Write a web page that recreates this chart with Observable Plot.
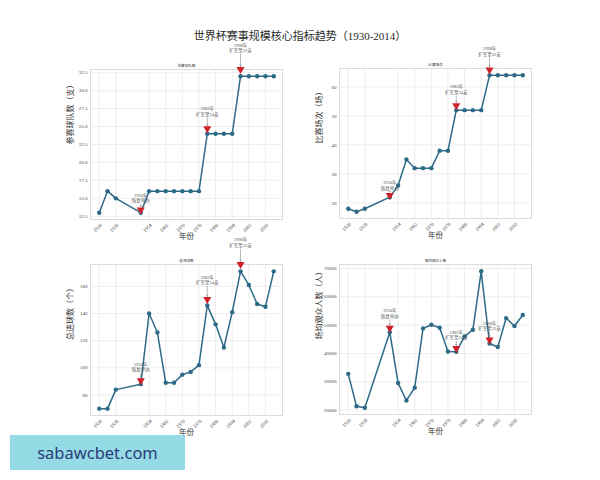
<!DOCTYPE html>
<html>
<head>
<meta charset="utf-8">
<script src="https://cdn.jsdelivr.net/npm/d3@7"></script>
<script src="https://cdn.jsdelivr.net/npm/@observablehq/plot@0.6"></script>
<style>
  html, body { margin: 0; padding: 0; background: #fff; }
  #wrap { position: relative; width: 600px; height: 480px; overflow: hidden; background: #fff;
          font-family: "Liberation Serif", "Noto Sans CJK SC", serif; }
  #wrap svg { position: absolute; }
  #title { position: absolute; left: 0; top: 29px; width: 600px; text-align: center;
           font-size: 11px; line-height: 14px; color: #2a2a2a; z-index: 5; }
  #mark { position: absolute; left: 10px; top: 435px; width: 175px; height: 35px; background: #95dbe6;
          color: #2b3b78; font-family: "Noto Sans", Roboto, sans-serif; font-size: 16.5px;
          line-height: 35px; text-align: center; z-index: 6; }
</style>
</head>
<body>
<div id="wrap">
  <div id="title">世界杯赛事规模核心指标趋势（1930-2014）</div>
  <div id="mark">sabawcbet.com</div>
</div>
<script>
// ---- data ----
const years = [1930,1934,1938,1950,1954,1958,1962,1966,1970,1974,1978,1982,1986,1990,1994,1998,2002,2006,2010,2014];
const teams = [13,16,15,13,16,16,16,16,16,16,16,24,24,24,24,32,32,32,32,32];
const matches = [18,17,18,22,26,35,32,32,32,38,38,52,52,52,52,64,64,64,64,64];
const goals = [70,70,84,88,140,126,89,89,95,97,102,146,132,115,141,171,161,147,145,171];
const attendance = [32808,21353,20872,47511,29562,23423,27912,48848,50124,49099,40679,40572,46039,48389,68991,43517,42269,52491,49669,53592];

const panelTitles = ["参赛球队数", "比赛场次", "总进球数", "场均观众人数"];
const yLabels = ["参赛球队数（支）", "比赛场次（场）", "总进球数（个）", "场均观众人数（人）"];
const xLabel = "年份";
const xTicks = [1930,1938,1954,1962,1970,1978,1986,1994,2002,2010];
const yTicks1 = [12.5,15.0,17.5,20.0,22.5,25.0,27.5,30.0,32.5];
const yTicks2 = [20,30,40,50,60];
const yTicks3 = [80,100,120,140,160];
const yTicks4 = [20000,30000,40000,50000,60000,70000];

const annoYears = [1950, 1982, 1998];
const annoTexts = ["1950年\n恢复举办", "1982年\n扩军至24支", "1998年\n扩军至32支"];

// ---- drawing ----
const LINE = "#2d6a87";
const RED = "#d0202a";
const FONT = "'Liberation Serif', 'Noto Sans CJK SC', serif";
const wrap = document.getElementById("wrap");

const panels = [
  {values: teams, ticks: yTicks1, fmt: d => d.toFixed(1), left: 40, top: 40, m: [29, 8, 31, 50]},
  {values: matches, ticks: yTicks2, fmt: d => String(d), left: 290, top: 40, m: [28, 9, 32, 49]},
  {values: goals, ticks: yTicks3, fmt: d => String(d), left: 40, top: 235, m: [29, 8, 30, 50]},
  {values: attendance, ticks: yTicks4, fmt: d => String(d), left: 290, top: 235, m: [29, 9, 31, 49]}
];

const xMin = d3.min(years), xMax = d3.max(years), xPad = (xMax - xMin) * 0.05;

panels.forEach((p, i) => {
  const data = years.map((y, k) => ({year: y, value: p.values[k]}));
  const ann = annoYears.map((y, k) => ({year: y, value: p.values[years.indexOf(y)], text: annoTexts[k]}));
  const vMin = d3.min(p.values), vMax = d3.max(p.values), vPad = (vMax - vMin) * 0.05;
  const chart = Plot.plot({
    width: 250, height: 210,
    marginTop: p.m[0], marginRight: p.m[1], marginBottom: p.m[2], marginLeft: p.m[3],
    style: {fontFamily: FONT, background: "transparent", overflow: "visible"},
    x: {domain: [xMin - xPad, xMax + xPad], axis: null},
    y: {domain: [vMin - vPad, vMax + vPad], axis: null},
    marks: [
      Plot.gridX(xTicks, {stroke: "#e3e3e3", strokeOpacity: 1, strokeWidth: 0.6}),
      Plot.gridY(p.ticks, {stroke: "#e3e3e3", strokeOpacity: 1, strokeWidth: 0.6}),
      Plot.frame({stroke: "#d4d4d4", strokeWidth: 0.8}),
      Plot.text(p.ticks, {y: d => d, frameAnchor: "left", textAnchor: "end", dx: -3, text: p.fmt, fontSize: 5, fill: "#444"}),
      Plot.text(xTicks, {x: d => d, frameAnchor: "bottom", rotate: -45, textAnchor: "end", dx: 3, dy: 6, text: d => String(d), fontSize: 5, fill: "#444"}),
      Plot.text([panelTitles[i]], {frameAnchor: "top", dy: -5, fontSize: 3.6, fill: "#333"}),
      Plot.text([yLabels[i]], {frameAnchor: "left", rotate: -90, dx: -20, fontSize: 8, fill: "#333"}),
      Plot.text([xLabel], {frameAnchor: "bottom", dy: 19, fontSize: 7.5, fill: "#333"}),
      Plot.line(data, {x: "year", y: "value", stroke: LINE, strokeWidth: 1.5}),
      Plot.dot(data, {x: "year", y: "value", fill: LINE, r: 2.2}),
      Plot.arrow(ann, {x1: "year", y1: d => d.value * 1.1, x2: "year", y2: d => d.value * 1.03,
                       stroke: "#888", strokeWidth: 0.6, insetStart: 1, insetEnd: 3, headLength: 3}),
      Plot.dot(ann, {x: "year", y: d => d.value * 1.03, symbol: "triangle", rotate: 180, fill: RED, r: 3}),
      Plot.text(ann, {x: "year", y: d => d.value * 1.1, text: "text", lineAnchor: "bottom", dy: -1,
                      fontSize: 4.5, lineHeight: 1.25, fill: "#555"})
    ]
  });
  chart.style.left = p.left + "px";
  chart.style.top = p.top + "px";
  wrap.appendChild(chart);
});
</script>
</body>
</html>
